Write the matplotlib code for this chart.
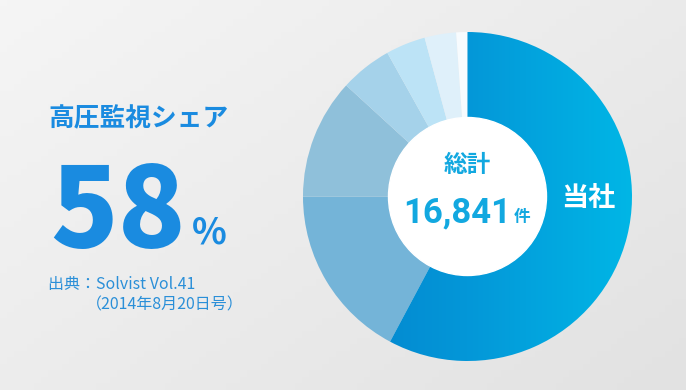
import numpy as np
import matplotlib
matplotlib.use("Agg")
import matplotlib.pyplot as plt
from matplotlib.colors import LinearSegmentedColormap

# ── Data ─────────────────────────────────────────────────────────────
SHARES = [57.8, 17.2, 11.8, 5.1, 3.9, 3.1, 1.1]      # %, clockwise from 12 o'clock
COLORS = ['#0a98d8', '#74b4d8', '#8fc0da', '#a5d2ea',
          '#bce3f6', '#dff0fa', '#f7fbfe']
OWN_LABEL = '当社'
OWN_SHARE = 58
TOTAL = 16841
TITLE = '高圧監視シェア'
SOURCE = ['出典：Solvist Vol.41', '（2014年8月20日号）']

W, H = 686, 390
CJK = ['Noto Sans CJK JP', 'DejaVu Sans']
BLUE = '#1a8be0'
CYAN = '#12a8e0'

fig = plt.figure(figsize=(W / 100, H / 100), dpi=100)

# ── Background (pixel coordinates) ──────────────────────────────────
bg = fig.add_axes([0, 0, 1, 1])
bg.set_xlim(0, W); bg.set_ylim(H, 0); bg.axis('off')
yy, xx = np.mgrid[0:1:60j, 0:1:100j]
grad = 0.55 * xx + 0.45 * yy
bg_cmap = LinearSegmentedColormap.from_list('bg', ['#f5f5f5', '#e2e2e2'])
bg.imshow(grad, cmap=bg_cmap, extent=(0, W, H, 0), aspect='auto', zorder=0)

# ── Donut ───────────────────────────────────────────────────────────
cx, cy, r = 467.5, 196.5, 164.5
pax = fig.add_axes([(cx - r) / W, (H - cy - r) / H, 2 * r / W, 2 * r / H])
wedges, _ = pax.pie(SHARES, colors=COLORS, startangle=90, counterclock=False,
                    wedgeprops=dict(linewidth=0))
pax.set_xlim(-1, 1); pax.set_ylim(-1, 1); pax.set_aspect('equal')
pax.axis('off')

# horizontal gradient on own-company slice
own = wedges[0]
own.set_facecolor('none')
own_cmap = LinearSegmentedColormap.from_list('own', ['#0280cb', '#0497d8', '#00b6e6'])
gimg = pax.imshow(np.linspace(0, 1, 256)[None, :], cmap=own_cmap,
                  extent=(-1, 1, -1, 1), aspect='auto', zorder=1)
gimg.set_clip_path(own)

pax.add_patch(plt.Circle((0, 0), 79 / r, color='white', zorder=3))

# ── Texts ───────────────────────────────────────────────────────────
tx = fig.add_axes([0, 0, 1, 1], facecolor='none')
tx.set_xlim(0, W); tx.set_ylim(H, 0); tx.axis('off')

tx.text(48, 119, TITLE, family=CJK, weight='bold', fontsize=18.5,
        color=BLUE, ha='left', va='center')
tx.text(50, 247, f'{OWN_SHARE}', family=CJK, weight='heavy', fontsize=80,
        color=BLUE, ha='left', va='baseline')
tx.text(192, 243, '%', family=CJK, weight='bold', fontsize=26,
        color=BLUE, ha='left', va='baseline')
tx.text(48, 285, SOURCE[0], family=CJK, fontsize=11.5,
        color='#2a8fd8', ha='left', va='center')
tx.text(86, 304.5, SOURCE[1], family=CJK, fontsize=11.5,
        color='#2a8fd8', ha='left', va='center')

tx.text(467.5, 165, '総計', family=CJK, weight='bold', fontsize=17,
        color=CYAN, ha='center', va='center')
tx.text(511, 222, f'{TOTAL:,}', family=['Roboto', 'DejaVu Sans'],
        weight='bold', fontsize=25, color=CYAN, ha='right', va='baseline')
tx.text(514, 222, '件', family=CJK, weight='bold', fontsize=12,
        color=CYAN, ha='left', va='baseline')
tx.text(588, 198.5, OWN_LABEL, family=CJK, weight='bold', fontsize=19.5,
        color='white', ha='center', va='center')

fig.savefig('out.png', dpi=100)
